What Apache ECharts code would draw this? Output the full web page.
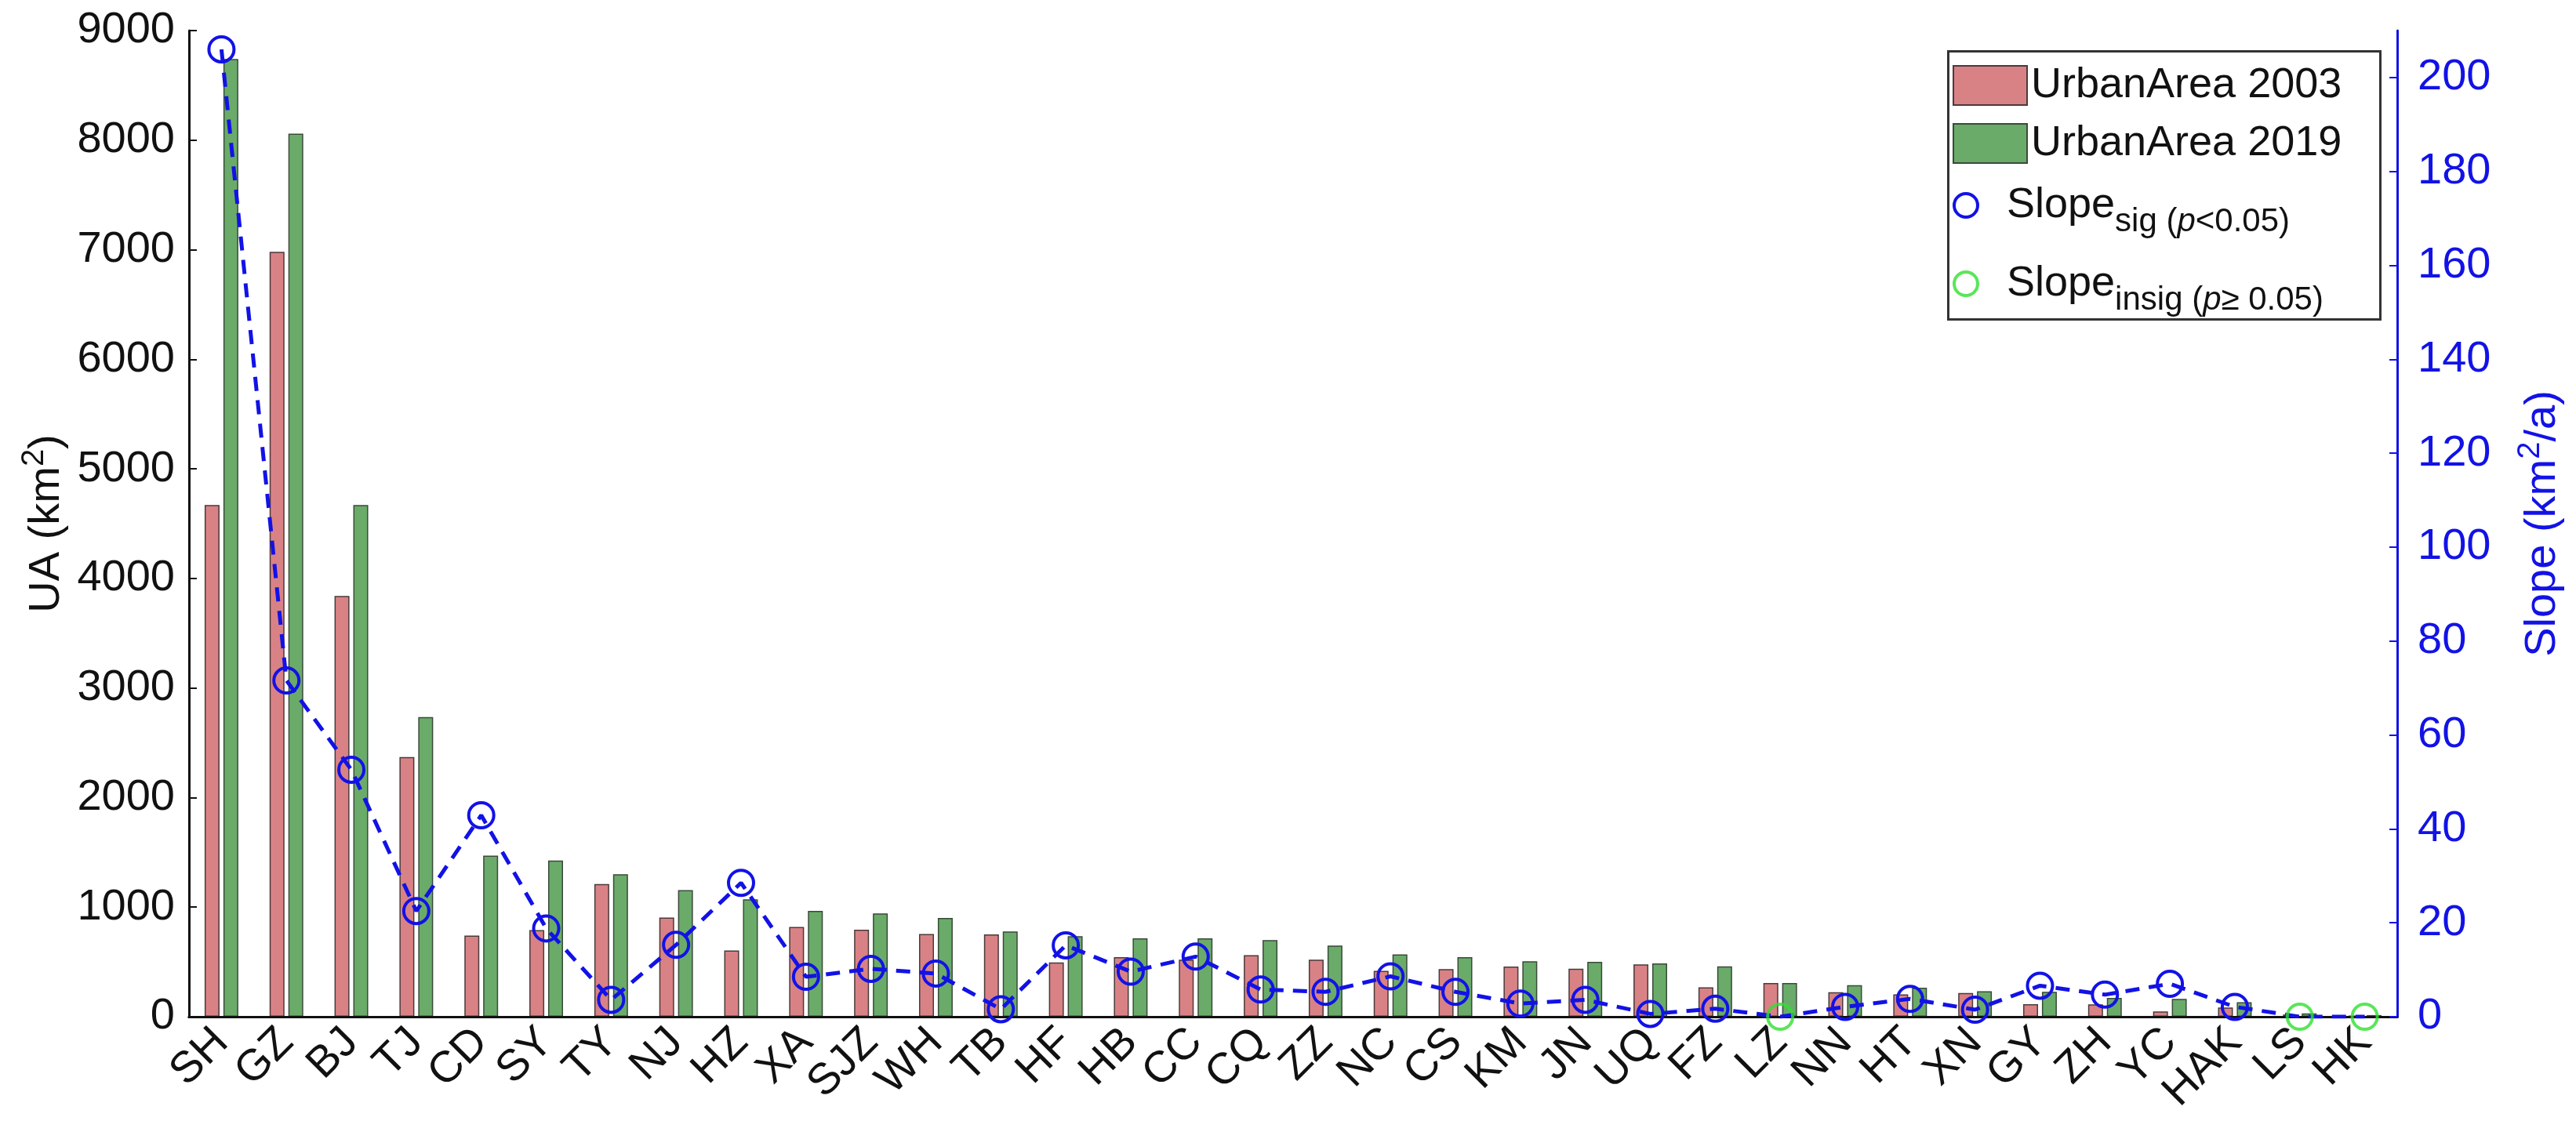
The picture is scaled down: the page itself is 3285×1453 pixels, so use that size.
<!DOCTYPE html>
<html>
<head>
<meta charset="utf-8">
<script src="https://cdn.jsdelivr.net/npm/echarts@6/dist/echarts.min.js"></script>
<style>
  html, body { margin: 0; padding: 0; background: #fff; }
  #chart { width: 3285px; height: 1453px; }
</style>
</head>
<body>
<div id="chart"></div>
<script>
const cities = ['SH','GZ','BJ','TJ','CD','SY','TY','NJ','HZ','XA','SJZ','WH','TB','HF','HB','CC','CQ','ZZ','NC','CS','KM','JN','UQ','FZ','LZ','NN','HT','XN','GY','ZH','YC','HAK','LS','HK']
const ua2003 = [4670, 6980, 3840, 2370, 740, 790, 1210, 905, 605, 820, 795, 755, 752, 496, 544, 520, 561, 520, 418, 434, 458, 439, 477, 269, 307, 223, 204, 216, 115, 113, 48, 84, 20, 10]
const ua2019 = [8740, 8060, 4670, 2735, 1470, 1425, 1300, 1155, 1071, 965, 943, 902, 778, 735, 716, 716, 699, 649, 568, 544, 506, 501, 487, 460, 307, 288, 264, 233, 228, 172, 163, 132, 30, 15]
const slope  = [206, 71.6, 52.6, 22.5, 42.9, 18.8, 3.6, 15.3, 28.5, 8.5, 10.2, 9.2, 1.6, 15.2, 9.6, 12.8, 5.8, 5.3, 8.6, 5.3, 2.8, 3.6, 0.6, 1.7, 0, 2.1, 3.8, 1.5, 6.6, 4.7, 7.0, 2.1, 0, 0]
const insig  = ['LZ', 'LS', 'HK']   // p >= 0.05
const uaTicks = [0, 9000, 1000]     // min, max, step
const slopeTicks = [0, 210, 20]

const FONT = 'Liberation Sans, Arial, Helvetica, sans-serif'
const BLUE = '#1212e6'
const GREEN = '#2fe02f'
const RED_BAR = '#d98286'
const GREEN_BAR = '#6aab6a'
const NOFILL = 'rgba(0,0,0,0)'

const chart = echarts.init(document.getElementById('chart'), null, { renderer: 'canvas' })

// subscript: pushed down by top padding
const subRich = {
  m: { fontSize: 54, fontFamily: FONT, color: '#111', lineHeight: 60 },
  s: { fontSize: 42, fontFamily: FONT, color: '#111', lineHeight: 46, verticalAlign: 'top', padding: [30, 0, 0, 0] },
  i: { fontSize: 42, fontFamily: FONT, color: '#111', lineHeight: 46, verticalAlign: 'top', padding: [30, 0, 0, 0], fontStyle: 'italic' },
}
// superscript for the axis names
const supRich = (color) => ({
  a: { fontSize: 56, fontFamily: FONT, color, lineHeight: 64, padding: [20, 0, 0, 0], verticalAlign: 'bottom' },
  s: { fontSize: 40, fontFamily: FONT, color, lineHeight: 44, verticalAlign: 'top' },
})

const xBase = {
  type: 'category',
  data: cities,
  boundaryGap: true,
  axisLine: { lineStyle: { color: '#111', width: 3 } },
  axisTick: { inside: true, alignWithLabel: true, length: 8, lineStyle: { color: '#111', width: 2 } },
  z: 5,
}

chart.setOption({
  backgroundColor: '#fff',
  animation: false,
  textStyle: { fontFamily: FONT },
  grid: { left: 241, right: 228, top: 39, bottom: 156, containLabel: false },
  legend: [
    {
      data: ['UrbanArea 2003', 'UrbanArea 2019'],
      orient: 'vertical', left: 2490, top: 82, padding: 0,
      itemWidth: 94, itemHeight: 50, itemGap: 20,
      icon: 'rect', selectedMode: false,
      textStyle: { fontSize: 54, fontFamily: FONT, color: '#111', lineHeight: 50 },
    },
    {
      data: [
        { name: 'sig', icon: 'circle', itemStyle: { color: NOFILL, borderColor: BLUE, borderWidth: 4 } },
        { name: 'insig', icon: 'circle', itemStyle: { color: NOFILL, borderColor: GREEN, borderWidth: 4 } },
      ],
      orient: 'vertical', left: 2490, top: 232, padding: 0,
      itemWidth: 94, itemHeight: 30, itemGap: 28,
      selectedMode: false,
      formatter: n => n === 'sig'
        ? '{m|Slope}{s|sig (}{i|p}{s|<0.05)}'
        : '{m|Slope}{s|insig (}{i|p}{s|\u2265 0.05)}',
      textStyle: { rich: subRich },
    },
  ],
  graphic: [{
    type: 'rect', left: 2482, top: 63, z: 10, silent: true,
    shape: { width: 551, height: 342 },
    style: { fill: 'none', stroke: '#333', lineWidth: 3 },
  }],
  xAxis: [
    Object.assign({}, xBase, {
      position: 'bottom',
      axisLabel: { rotate: 45, interval: 0, margin: 24, fontSize: 56, fontFamily: FONT, color: '#111' },
    }),
    Object.assign({}, xBase, { position: 'top', axisLabel: { show: false } }),
  ],
  yAxis: [
    {
      type: 'value', position: 'left',
      min: uaTicks[0], max: uaTicks[1], interval: uaTicks[2],
      axisLine: { show: true, lineStyle: { color: '#111', width: 3 } },
      axisTick: { show: true, inside: true, length: 10, lineStyle: { color: '#111', width: 2 } },
      axisLabel: { margin: 18, fontSize: 56, fontFamily: FONT, color: '#111', formatter: v => String(v) },
      splitLine: { show: false },
      name: '{a|UA (km}{s|2}{a|)}',
      nameLocation: 'middle', nameRotate: 90, nameGap: 150,
      nameTextStyle: { rich: supRich('#111') },
      z: 5,
    },
    {
      type: 'value', position: 'right',
      min: slopeTicks[0], max: slopeTicks[1], interval: slopeTicks[2],
      axisLine: { show: true, lineStyle: { color: BLUE, width: 3 } },
      axisTick: { show: true, inside: true, length: 10, lineStyle: { color: BLUE, width: 2 } },
      axisLabel: { margin: 26, fontSize: 56, fontFamily: FONT, color: BLUE, showMaxLabel: false, formatter: v => String(v) },
      splitLine: { show: false },
      name: '{a|Slope (km}{s|2}{a|/a)}',
      nameLocation: 'middle', nameRotate: 90, nameGap: 150,
      nameTextStyle: { rich: supRich(BLUE) },
      z: 5,
    },
  ],
  series: [
    {
      name: 'UrbanArea 2003', type: 'bar', data: ua2003,
      barWidth: 19, barGap: '26%',
      itemStyle: { color: RED_BAR, borderColor: '#4a3a3a', borderWidth: 1.5 },
      emphasis: { disabled: true },
    },
    {
      name: 'UrbanArea 2019', type: 'bar', data: ua2019,
      barWidth: 19, barGap: '26%',
      itemStyle: { color: GREEN_BAR, borderColor: '#3a4a3a', borderWidth: 1.5 },
      emphasis: { disabled: true },
    },
    {
      name: 'sig', type: 'line', yAxisIndex: 1, z: 6,
      data: slope.map((v, i) => insig.includes(cities[i]) ? { value: v, symbol: 'none' } : v),
      symbol: 'circle', symbolSize: 32,
      itemStyle: { color: NOFILL, borderColor: BLUE, borderWidth: 4 },
      lineStyle: { color: BLUE, width: 5, type: [18, 12] },
      emphasis: { disabled: true },
    },
    {
      name: 'insig', type: 'scatter', yAxisIndex: 1, z: 7,
      data: slope.map((v, i) => insig.includes(cities[i]) ? v : '-'),
      symbol: 'circle', symbolSize: 32,
      itemStyle: { color: NOFILL, borderColor: GREEN, borderWidth: 4 },
      emphasis: { disabled: true },
    },
  ],
})
</script>
</body>
</html>
